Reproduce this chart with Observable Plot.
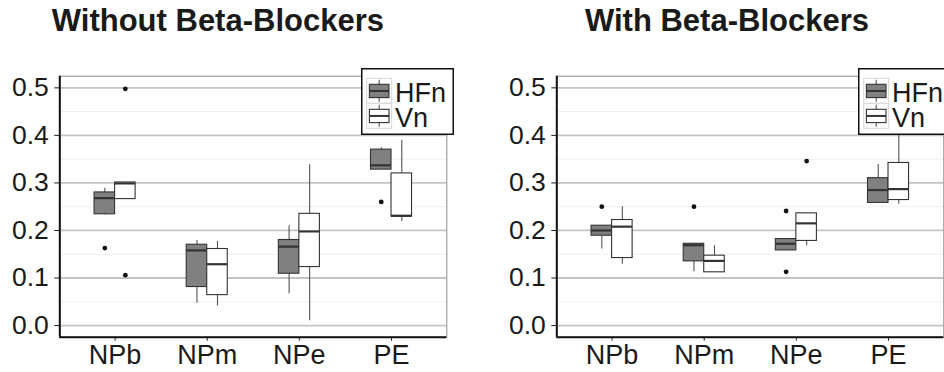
<!DOCTYPE html>
<html>
<head>
<meta charset="utf-8">
<script src="https://cdn.jsdelivr.net/npm/d3@7"></script>
<script src="https://cdn.jsdelivr.net/npm/@observablehq/plot@0.6"></script>
<style>
  html, body { margin: 0; padding: 0; background: #fff; overflow: hidden; width: 944px; height: 372px; }
  #root { position: relative; width: 944px; height: 372px; overflow: hidden; font-family: "Liberation Sans", Arial, sans-serif; }
  .panel { position: absolute; top: 0; width: 470px; height: 372px; }
  .panel svg.plot { position: absolute; left: 0; top: 0; }
  .title { position: absolute; top: 5px; width: 500px; text-align: center; font-weight: bold; font-size: 31px; line-height: 31px; color: #1a1a1a; white-space: nowrap; }
  .legend { position: absolute; top: 68px; }
  svg.plot [aria-label^="x-axis"] text { font-size: 27px; }
</style>
</head>
<body>
<div id="root"></div>
<script>
// ---------- data ----------
const categories = ["NPb", "NPm", "NPe", "PE"];
const groups = ["HFn", "Vn"];
const groupFills = ["#808080", "#ffffff"];
const yTicks = [0.0, 0.1, 0.2, 0.3, 0.4, 0.5];
const yMinorTicks = [0.05, 0.15, 0.25, 0.35, 0.45];
const panelTitles = ["Without Beta-Blockers", "With Beta-Blockers"];

// per category: [lower whisker, Q1, median, Q3, upper whisker]
const withoutHFn = [
  [0.233, 0.234, 0.268, 0.280, 0.289],
  [0.047, 0.081, 0.158, 0.170, 0.179],
  [0.067, 0.109, 0.166, 0.180, 0.210],
  [0.328, 0.328, 0.337, 0.370, 0.374]
];
const withoutVn = [
  [0.266, 0.266, 0.299, 0.301, 0.301],
  [0.041, 0.064, 0.129, 0.161, 0.177],
  [0.010, 0.123, 0.198, 0.235, 0.338],
  [0.219, 0.229, 0.231, 0.320, 0.390]
];
const withHFn = [
  [0.161, 0.189, 0.200, 0.210, 0.210],
  [0.113, 0.135, 0.169, 0.172, 0.173],
  [0.158, 0.158, 0.172, 0.182, 0.183],
  [0.258, 0.258, 0.285, 0.310, 0.339]
];
const withVn = [
  [0.129, 0.142, 0.208, 0.222, 0.250],
  [0.112, 0.112, 0.136, 0.147, 0.168],
  [0.168, 0.178, 0.215, 0.236, 0.237],
  [0.255, 0.264, 0.287, 0.342, 0.420]
];
// outliers: [category, group, value]
const withoutOutliers = [
  ["NPb", "HFn", 0.163],
  ["NPb", "Vn", 0.498],
  ["NPb", "Vn", 0.106],
  ["PE", "HFn", 0.260]
];
const withOutliers = [
  ["NPb", "HFn", 0.250],
  ["NPm", "HFn", 0.250],
  ["NPe", "HFn", 0.241],
  ["NPe", "HFn", 0.113],
  ["NPe", "Vn", 0.346]
];

// ---------- layout / style ----------
const halfBox = 0.1114;           // half of one box width, in category steps
const xDomain = [-0.6, categories.length - 1 + 0.6];
const yDomain = [-0.0245, 0.5245];
const panelOffsets = [0, 496.7];
const titleCenters = [217.9, 230.3];
const legendLeft = 361;

function centerOf(cat, group) {
  return categories.indexOf(cat) + (group === groups[0] ? -halfBox : halfBox);
}

function buildRows(hfn, vn) {
  const rows = [];
  [hfn, vn].forEach((arr, gi) => {
    arr.forEach((s, ci) => {
      rows.push({cat: categories[ci], group: groups[gi], lo: s[0], q1: s[1], med: s[2], q3: s[3], hi: s[4]});
    });
  });
  return rows;
}

function makePlot(rows, outliers) {
  const outRows = outliers.map(([cat, group, value]) => ({cat, group, value}));
  return Plot.plot({
    width: 470,
    height: 372,
    marginLeft: 59.3,
    marginRight: 23.7,
    marginTop: 75.7,
    marginBottom: 35.3,
    style: {fontSize: "26.5px", fontFamily: "'Liberation Sans', Arial, sans-serif", color: "#1a1a1a", background: "transparent", overflow: "visible"},
    x: {type: "linear", domain: xDomain, ticks: categories.map((c, i) => i), tickFormat: i => categories[i], tickSize: 4, tickPadding: 4, label: null},
    y: {domain: yDomain, ticks: yTicks, tickFormat: d3.format(".1f"), tickSize: 5, tickPadding: 6, label: null},
    color: {domain: groups, range: groupFills},
    marks: [
      Plot.ruleY(yMinorTicks, {stroke: "#efefef", strokeWidth: 1}),
      Plot.ruleY(yTicks, {stroke: "#c4c4c4", strokeWidth: 1.8}),
      Plot.ruleX(rows, {x: d => centerOf(d.cat, d.group), y1: "lo", y2: "q1", stroke: "#555", strokeWidth: 1.1}),
      Plot.ruleX(rows, {x: d => centerOf(d.cat, d.group), y1: "q3", y2: "hi", stroke: "#555", strokeWidth: 1.1}),
      Plot.rect(rows, {
        x1: d => centerOf(d.cat, d.group) - halfBox,
        x2: d => centerOf(d.cat, d.group) + halfBox,
        y1: "q1", y2: "q3", fill: "group", stroke: "#333", strokeWidth: 1.1
      }),
      Plot.ruleY(rows, {
        y: "med",
        x1: d => centerOf(d.cat, d.group) - halfBox,
        x2: d => centerOf(d.cat, d.group) + halfBox,
        stroke: "#333", strokeWidth: 2.2
      }),
      Plot.dot(outRows, {x: d => centerOf(d.cat, d.group), y: "value", r: 2.4, fill: "#111", stroke: null}),
      Plot.frame({stroke: "#8a8a8a", strokeWidth: 1}),
      Plot.ruleX([xDomain[0]], {stroke: "#111", strokeWidth: 2}),
      Plot.ruleY([yDomain[0]], {stroke: "#111", strokeWidth: 2})
    ]
  });
}

function makeLegend() {
  const svg = d3.create("svg").attr("width", 93).attr("height", 67).attr("class", "legendsvg");
  svg.append("rect").attr("x", 0.75).attr("y", 0.75).attr("width", 91.5).attr("height", 65.5)
    .attr("fill", "#fff").attr("stroke", "#111").attr("stroke-width", 1.5);
  groups.forEach((g, i) => {
    const key = svg.append("g").attr("transform", `translate(5.7,${10.3 + i * 25})`);
    key.append("rect").attr("x", 0).attr("y", 0).attr("width", 25).attr("height", 25)
      .attr("fill", "#fff").attr("stroke", "#d6d6d6").attr("stroke-width", 1);
    key.append("line").attr("x1", 12.5).attr("x2", 12.5).attr("y1", 1.5).attr("y2", 23.5)
      .attr("stroke", "#555").attr("stroke-width", 1.1);
    key.append("rect").attr("x", 2.7).attr("y", 6).attr("width", 19.6).attr("height", 13.3)
      .attr("fill", groupFills[i]).attr("stroke", "#333").attr("stroke-width", 1.1);
    key.append("line").attr("x1", 2.7).attr("x2", 22.3).attr("y1", 12.65).attr("y2", 12.65)
      .attr("stroke", "#333").attr("stroke-width", 2);
    svg.append("text").attr("x", 34).attr("y", 33.7 + i * 25)
      .attr("font-family", "'Liberation Sans', Arial, sans-serif").attr("font-size", 27)
      .attr("fill", "#1a1a1a").text(g);
  });
  return svg.node();
}

const root = document.getElementById("root");
const panels = [
  {rows: buildRows(withoutHFn, withoutVn), outliers: withoutOutliers},
  {rows: buildRows(withHFn, withVn), outliers: withOutliers}
];
panels.forEach((p, i) => {
  const div = document.createElement("div");
  div.className = "panel";
  div.style.left = panelOffsets[i] + "px";
  const plot = makePlot(p.rows, p.outliers);
  plot.classList.add("plot");
  div.appendChild(plot);
  const title = document.createElement("div");
  title.className = "title";
  title.style.left = (titleCenters[i] - 250) + "px";
  title.textContent = panelTitles[i];
  div.appendChild(title);
  const leg = document.createElement("div");
  leg.className = "legend";
  leg.style.left = legendLeft + "px";
  leg.appendChild(makeLegend());
  div.appendChild(leg);
  root.appendChild(div);
});
</script>
</body>
</html>
